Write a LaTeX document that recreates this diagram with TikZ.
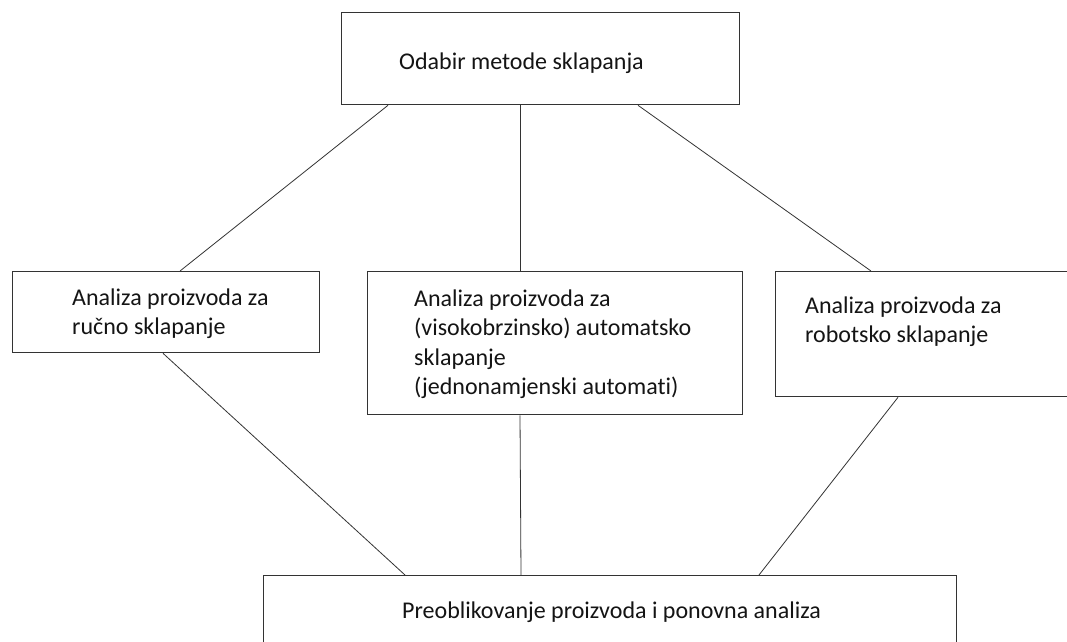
\documentclass[tikz,border=0pt]{standalone}
\usepackage{fontspec}
\setmainfont[Ligatures={NoCommon,NoRare}]{Carlito}
\usetikzlibrary{calc}
\begin{document}
\begin{tikzpicture}[x=1pt,y=-1pt,
  box/.style={draw=black!80, line width=1.3pt, rectangle, inner sep=0pt, anchor=north west},
  txt/.style={anchor=base west, inner sep=0pt, align=left, text=black!92,
    font=\fontsize{24}{29.5}\selectfont},
  conn/.style={draw=black!80, line width=0.8pt}]
\useasboundingbox (0,0) rectangle (1067,641);
\clip (0,0) rectangle (1067,641);
\fill[white] (0,0) rectangle (1067,641);
% boxes
\node[box, minimum width=398pt, minimum height=92pt] (top) at (341,12) {};
\node[box, minimum width=307pt, minimum height=81pt] (left) at (12,271) {};
\node[box, minimum width=375pt, minimum height=143pt] (mid) at (367,271) {};
\node[box, minimum width=310pt, minimum height=125pt] (right) at (775,271) {};
\node[box, minimum width=693pt, minimum height=90pt] (bot) at (263,575) {};
% texts (base = baseline of the last line)
\node[txt] (ttop) at (399,69) {Odabir metode sklapanja};
\node[txt] (tleft) at (72,334.5) {Analiza proizvoda za\\ručno sklapanje};
\node[txt] (tmid) at (414,394.5) {Analiza proizvoda za\\(visokobrzinsko) automatsko\\sklapanje\\(jednonamjenski automati)};
\node[txt] (tright) at (805,342.5) {Analiza proizvoda za\\robotsko sklapanje};
\node[txt] (tbot) at (402,618) {Preoblikovanje proizvoda i ponovna analiza};
% connectors
\draw[conn] ([xshift=47pt]top.south west) -- ([xshift=168pt]left.north west);
\draw[conn] ([xshift=179pt]top.south west) -- ([xshift=153pt]mid.north west);
\draw[conn] ([xshift=297pt]top.south west) -- ([xshift=96pt]right.north west);
\draw[conn] ([xshift=151pt]left.south west) -- ([xshift=142pt]bot.north west);
\draw[conn] ([xshift=153pt]mid.south west) -- ([xshift=258pt]bot.north west);
\draw[conn] ([xshift=123pt]right.south west) -- ([xshift=496pt]bot.north west);
\end{tikzpicture}
\end{document}
